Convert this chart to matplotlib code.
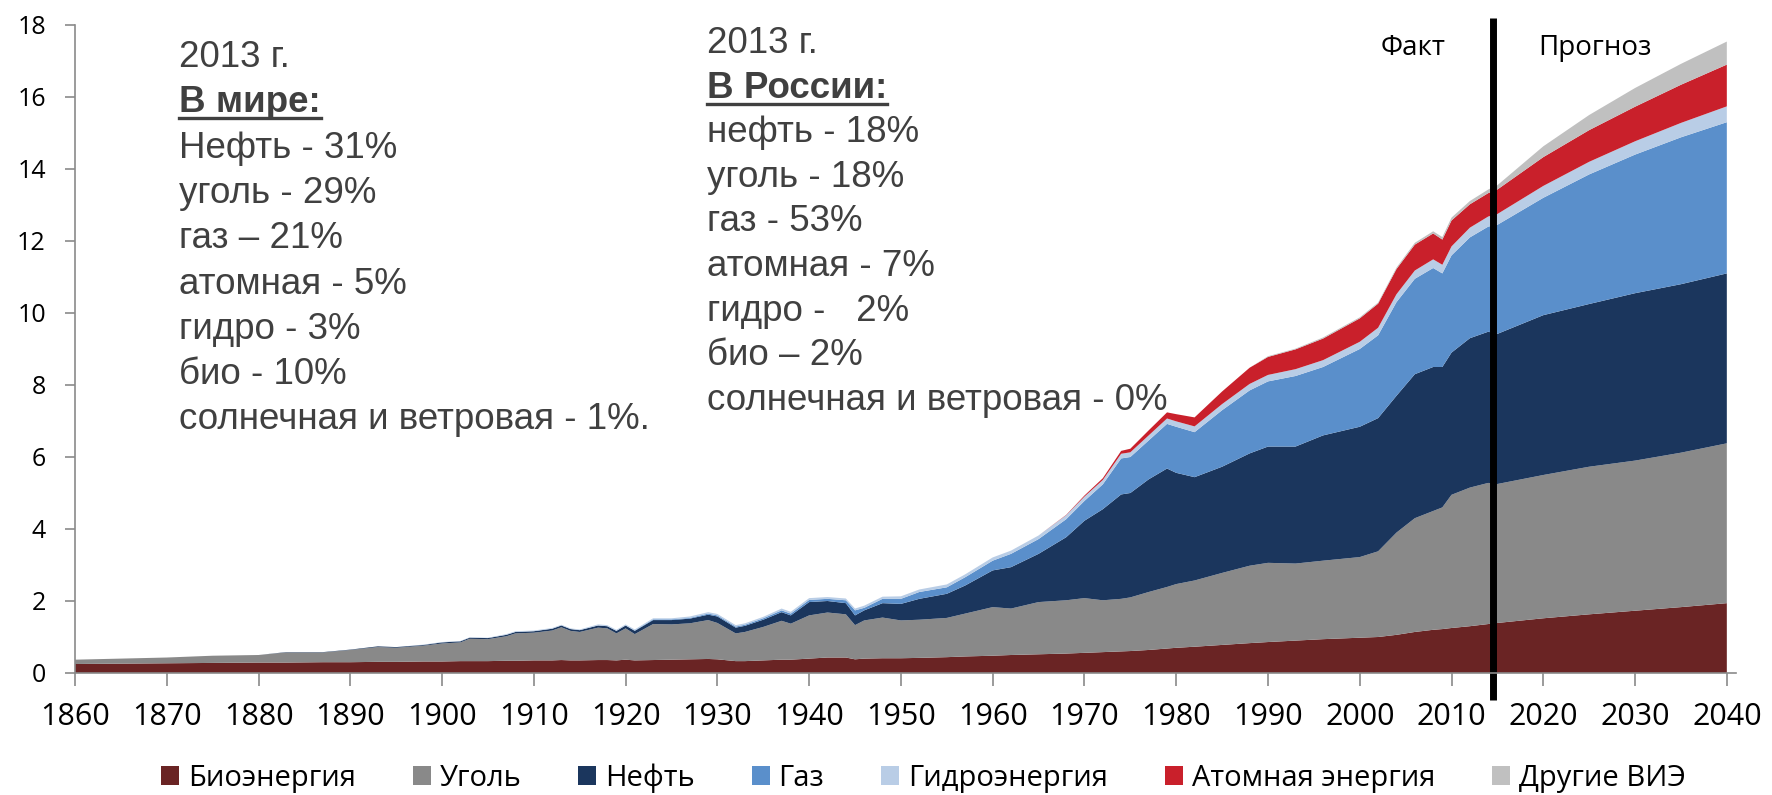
import numpy as np
import matplotlib.pyplot as plt
from matplotlib.patches import Patch
from matplotlib.lines import Line2D

plt.rcParams['font.family'] = ['Open Sans', 'DejaVu Sans']

years = [1860, 1865, 1870, 1875, 1880, 1883, 1887, 1890, 1893, 1895, 1898, 1900,
         1902, 1903, 1905, 1907, 1908, 1910, 1912, 1913, 1914, 1915, 1917, 1918,
         1919, 1920, 1921, 1923, 1925, 1927, 1929, 1930, 1932, 1933, 1935, 1937,
         1938, 1940, 1942, 1944, 1945, 1946, 1948, 1950, 1952, 1955, 1957, 1960,
         1962, 1965, 1968, 1970, 1972, 1974, 1975, 1977, 1979, 1980, 1982, 1985,
         1988, 1990, 1993, 1996, 2000, 2002, 2004, 2006, 2008, 2009, 2010, 2012,
         2014, 2015, 2020, 2025, 2030, 2035, 2040]

bio = [0.25, 0.26, 0.27, 0.28, 0.29, 0.29, 0.30, 0.30, 0.31, 0.31, 0.32, 0.32,
       0.33, 0.33, 0.33, 0.34, 0.34, 0.35, 0.35, 0.36, 0.35, 0.35, 0.36, 0.36,
       0.35, 0.37, 0.35, 0.36, 0.37, 0.38, 0.39, 0.38, 0.33, 0.33, 0.35, 0.37,
       0.37, 0.40, 0.43, 0.43, 0.38, 0.40, 0.41, 0.41, 0.42, 0.44, 0.46, 0.48,
       0.50, 0.52, 0.54, 0.56, 0.58, 0.60, 0.61, 0.64, 0.68, 0.70, 0.73, 0.78,
       0.83, 0.86, 0.90, 0.94, 0.98, 1.00, 1.06, 1.14, 1.20, 1.22, 1.25, 1.30,
       1.36, 1.39, 1.52, 1.63, 1.73, 1.83, 1.94]

coal = [0.12, 0.14, 0.16, 0.20, 0.21, 0.28, 0.27, 0.34, 0.41, 0.39, 0.44, 0.50,
        0.52, 0.62, 0.61, 0.68, 0.76, 0.77, 0.83, 0.91, 0.82, 0.79, 0.90, 0.88,
        0.75, 0.87, 0.73, 1.00, 0.98, 1.00, 1.08, 1.01, 0.77, 0.81, 0.93, 1.08,
        1.00, 1.20, 1.25, 1.20, 0.95, 1.06, 1.13, 1.05, 1.06, 1.09, 1.19, 1.35,
        1.29, 1.45, 1.48, 1.52, 1.44, 1.46, 1.49, 1.61, 1.71, 1.77, 1.84, 2.00,
        2.15, 2.20, 2.14, 2.18, 2.24, 2.38, 2.84, 3.16, 3.30, 3.38, 3.70, 3.85,
        3.92, 3.86, 3.98, 4.10, 4.17, 4.29, 4.44]

oil = [0.0, 0.0, 0.0, 0.0, 0.0, 0.01, 0.01, 0.01, 0.02, 0.02, 0.02, 0.03,
       0.03, 0.03, 0.03, 0.04, 0.04, 0.04, 0.05, 0.05, 0.05, 0.05, 0.06, 0.06,
       0.07, 0.08, 0.09, 0.11, 0.12, 0.13, 0.15, 0.18, 0.16, 0.17, 0.20, 0.24,
       0.23, 0.37, 0.32, 0.31, 0.27, 0.28, 0.40, 0.46, 0.58, 0.67, 0.78, 1.02,
       1.15, 1.34, 1.75, 2.15, 2.53, 2.90, 2.90, 3.13, 3.29, 3.09, 2.87, 2.95,
       3.12, 3.23, 3.25, 3.48, 3.62, 3.70, 3.80, 4.00, 4.00, 3.90, 3.95, 4.15,
       4.20, 4.17, 4.44, 4.52, 4.65, 4.68, 4.72]

gas = [0.0, 0.0, 0.0, 0.0, 0.0, 0.0, 0.0, 0.0, 0.0, 0.0, 0.0, 0.0,
       0.0, 0.0, 0.0, 0.0, 0.0, 0.0, 0.0, 0.0, 0.0, 0.0, 0.0, 0.0,
       0.0, 0.0, 0.01, 0.02, 0.02, 0.02, 0.03, 0.03, 0.03, 0.03, 0.04, 0.05,
       0.05, 0.06, 0.06, 0.08, 0.14, 0.07, 0.12, 0.14, 0.19, 0.18, 0.23, 0.27,
       0.37, 0.41, 0.50, 0.55, 0.69, 1.00, 1.00, 1.08, 1.24, 1.28, 1.25, 1.57,
       1.75, 1.81, 1.96, 1.90, 2.16, 2.30, 2.60, 2.65, 2.75, 2.60, 2.70, 2.80,
       2.92, 3.03, 3.26, 3.60, 3.85, 4.08, 4.20]

hydro = [0.0, 0.0, 0.0, 0.0, 0.0, 0.0, 0.0, 0.0, 0.0, 0.0, 0.01, 0.01,
         0.01, 0.01, 0.01, 0.02, 0.02, 0.02, 0.02, 0.02, 0.02, 0.02, 0.03, 0.03,
         0.03, 0.03, 0.03, 0.03, 0.03, 0.04, 0.04, 0.04, 0.04, 0.04, 0.04, 0.05,
         0.05, 0.05, 0.05, 0.05, 0.05, 0.06, 0.06, 0.07, 0.07, 0.08, 0.08, 0.09,
         0.09, 0.10, 0.11, 0.12, 0.12, 0.13, 0.13, 0.14, 0.15, 0.15, 0.16, 0.17,
         0.18, 0.18, 0.19, 0.19, 0.20, 0.21, 0.22, 0.23, 0.24, 0.24, 0.25, 0.27,
         0.28, 0.30, 0.33, 0.35, 0.37, 0.40, 0.44]

nuclear = [0.0] * 50 + [0.01, 0.03, 0.05, 0.08, 0.10, 0.14, 0.17, 0.20, 0.25, 0.35,
                        0.45, 0.50, 0.55, 0.60, 0.65, 0.67, 0.70, 0.72, 0.72, 0.70,
                        0.72, 0.65, 0.65, 0.68, 0.80, 0.88, 0.96, 1.06, 1.16]

other = [0.0] * 61 + [0.02, 0.02, 0.03, 0.03, 0.03, 0.04, 0.05, 0.06, 0.07, 0.08,
                      0.09, 0.10, 0.12, 0.30, 0.42, 0.52, 0.58, 0.64]

names = ['Биоэнергия', 'Уголь', 'Нефть', 'Газ', 'Гидроэнергия',
         'Атомная энергия', 'Другие ВИЭ']
colors = ['#6a2424', '#898989', '#1b365d', '#5a8fcb', '#b9cde6',
          '#c9202b', '#c0c0c0']

world_lines = ['2013 г.', 'В мире:', 'Нефть - 31%', 'уголь - 29%', 'газ – 21%',
               'атомная - 5%', 'гидро - 3%', 'био - 10%',
               'солнечная и ветровая - 1%.']
russia_lines = ['2013 г.', 'В России:', 'нефть - 18%', 'уголь - 18%', 'газ - 53%',
                'атомная - 7%', 'гидро -   2%', 'био – 2%',
                'солнечная и ветровая - 0%']

W, H = 1772, 795
fig = plt.figure(figsize=(W / 100, H / 100), dpi=100)
ax = fig.add_axes([75 / W, 1 - 673 / H, 1661 / W, 648 / H])

ax.stackplot(years, bio, coal, oil, gas, hydro, nuclear, other,
             colors=colors, linewidth=0)

ax.set_xlim(1860, 2041)
ax.set_ylim(0, 18)
ax.set_xticks(range(1860, 2041, 10))
ax.set_yticks(range(0, 19, 2))
for s in ['top', 'right']:
    ax.spines[s].set_visible(False)
for s in ['left', 'bottom']:
    ax.spines[s].set_color('#8a8a8a')
    ax.spines[s].set_linewidth(1.2)
ax.tick_params(axis='x', length=9, width=1.2, color='#8a8a8a', pad=12, labelsize=22)
ax.tick_params(axis='y', length=7, width=1.2, color='#8a8a8a', pad=14, labelsize=18)

# fact / forecast divider
ax.plot([2014.5, 2014.5], [-0.75, 18.2], color='black', lw=5, clip_on=False,
        solid_capstyle='butt')
fig.text(1413 / W, 1 - 55 / H, 'Факт', ha='center', va='baseline', fontsize=20)
fig.text(1595 / W, 1 - 55 / H, 'Прогноз', ha='center', va='baseline', fontsize=20)

# annotation blocks
txt_kw = dict(family=['Liberation Sans', 'DejaVu Sans'], fontsize=26.5,
              color='#404040', va='baseline', ha='left')
bold_texts = []
for i, line in enumerate(world_lines):
    t = fig.text(179 / W, 1 - (67 + 45.3 * i) / H, line,
                 fontweight='bold' if i == 1 else 'normal', **txt_kw)
    if i == 1:
        bold_texts.append(t)
for i, line in enumerate(russia_lines):
    t = fig.text(707 / W, 1 - (53 + 44.6 * i) / H, line,
                 fontweight='bold' if i == 1 else 'normal', **txt_kw)
    if i == 1:
        bold_texts.append(t)

handles = [Patch(facecolor=c, edgecolor='none') for c in colors]
fig.legend(handles, names, loc='center', bbox_to_anchor=(0.521, 0.021), ncol=7,
           frameon=False, fontsize=21, handlelength=0.62, handleheight=0.62,
           handletextpad=0.3, columnspacing=1.95)

# underline the bold headings
fig.canvas.draw()
r = fig.canvas.get_renderer()
for t in bold_texts:
    bb = t.get_window_extent(renderer=r)
    x0, y0 = t.get_position()
    yl = y0 - 6 / H
    fig.add_artist(Line2D([bb.x0 / W, bb.x1 / W], [yl, yl], color='#404040',
                          lw=2.4, transform=fig.transFigure))

fig.savefig('out.png', dpi=100)
